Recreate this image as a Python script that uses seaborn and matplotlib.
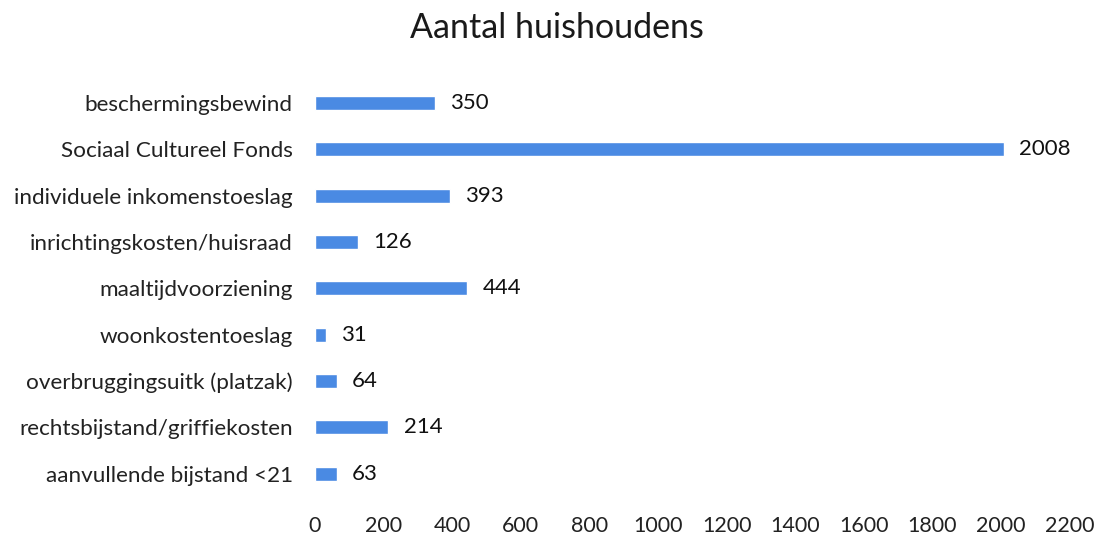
import matplotlib
matplotlib.use('Agg')
import matplotlib.pyplot as plt
import seaborn as sns
import pandas as pd

# data
categories = ['beschermingsbewind', 'Sociaal Cultureel Fonds', 'individuele inkomenstoeslag',
              'inrichtingskosten/huisraad', 'maaltijdvoorziening', 'woonkostentoeslag',
              'overbruggingsuitk (platzak)', 'rechtsbijstand/griffiekosten', 'aanvullende bijstand <21']
values = [350, 2008, 393, 126, 444, 31, 64, 214, 63]
xticks = list(range(0, 2201, 200))

df = pd.DataFrame({'categorie': categories, 'aantal': values})

sns.set_style('white')
plt.rcParams['font.family'] = ['Lato', 'DejaVu Sans']

fig = plt.figure(figsize=(10.96, 5.39), dpi=100)
ax = fig.add_axes([0.2874, 0.078, 0.6886, 0.774])

sns.barplot(data=df, y='categorie', x='aantal', orient='h', color='#4a8ae3',
            width=0.3, ax=ax, saturation=1)

ax.set_xlim(0, 2200)
ax.set_xticks(xticks)
ax.set_xlabel('')
ax.set_ylabel('')
for s in ax.spines.values():
    s.set_visible(False)
ax.tick_params(axis='x', length=0, pad=14, labelsize=15.5, colors='#222222')
ax.tick_params(axis='y', length=0, pad=16, labelsize=16.2, colors='#222222')

ax.bar_label(ax.containers[0], padding=11, fontsize=16, color='#111111')

fig.suptitle('Aantal huishoudens', x=0.508, y=0.978, fontsize=24.5,
             fontweight='normal', color='#1a1a1a')

fig.savefig('out.png', dpi=100)
